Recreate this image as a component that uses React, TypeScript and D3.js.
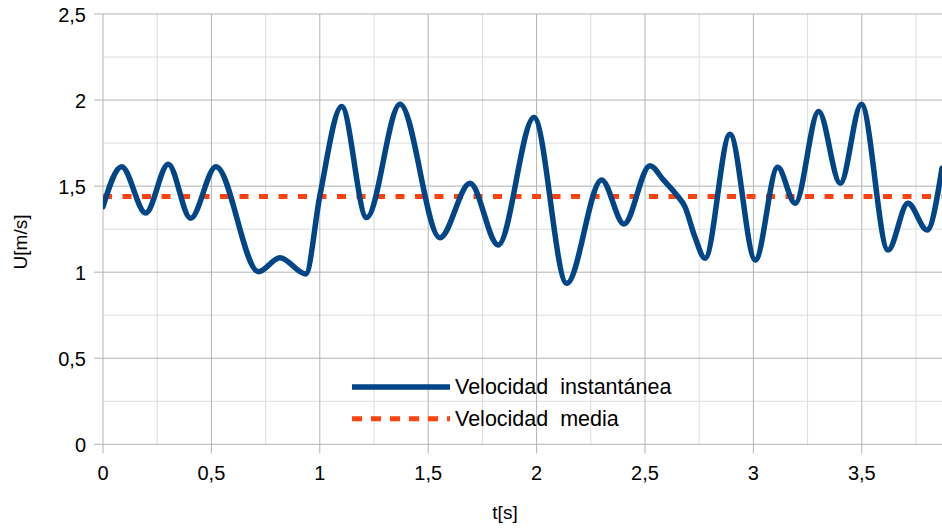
import React from "react";
import * as d3 from "d3";

// Data
const timeS: number[] = [
  0, 0.086, 0.197, 0.301, 0.404, 0.521, 0.717, 0.816, 0.935, 1.001,
  1.101, 1.216, 1.37, 1.554, 1.693, 1.823, 1.988, 2.139, 2.3, 2.403,
  2.523, 2.585, 2.646, 2.684, 2.73, 2.777, 2.892, 3.009, 3.112, 3.193, 3.301,
  3.401, 3.498, 3.621, 3.713, 3.801, 3.87,
];
const velocity: number[] = [
  1.381, 1.613, 1.344, 1.627, 1.313, 1.613, 1.003, 1.084, 0.99, 1.449,
  1.962, 1.317, 1.976, 1.2, 1.516, 1.158, 1.898, 0.935, 1.536, 1.28,
  1.619, 1.536, 1.449, 1.381, 1.206, 1.081, 1.801, 1.071, 1.609, 1.4, 1.933,
  1.516, 1.976, 1.129, 1.4, 1.245, 1.604,
];
const meanVelocity = 1.44;
const xTicks: number[] = [0, 0.5, 1, 1.5, 2, 2.5, 3, 3.5];
const yTicks: number[] = [0, 0.5, 1, 1.5, 2, 2.5];
const xMinorTicks: number[] = [0.25, 0.75, 1.25, 1.75, 2.25, 2.75, 3.25, 3.75];
const yMinorTicks: number[] = [0.25, 0.75, 1.25, 1.75, 2.25];
const seriesNames: string[] = ["Velocidad  instantánea", "Velocidad  media"];
const xTitle = "t[s]";
const yTitle = "U[m/s]";

const W = 942;
const H = 531;
const left = 103;
const right = 942;
const top = 14;
const bottom = 444.3;

const BLUE = "#004586";
const ORANGE = "#ff420e";
const FONT = "'Liberation Sans', Arial, sans-serif";

const fmt = (v: number) => String(v).replace(".", ",");

export default function App() {
  const x = d3.scaleLinear().domain([0, 3.87]).range([left, right]);
  const y = d3.scaleLinear().domain([0, 2.5]).range([bottom, top]);

  const pts: [number, number][] = timeS.map((t, i) => [t, velocity[i]]);
  const line = d3
    .line<[number, number]>()
    .x((d) => x(d[0]))
    .y((d) => y(d[1]))
    .curve(d3.curveMonotoneX);

  const meanLine = d3
    .line<number>()
    .x((t) => x(t))
    .y(() => y(meanVelocity));

  return (
    <svg
      width={W}
      height={H}
      style={{ position: "fixed", left: 0, top: 0, background: "#fff" }}
      fontFamily={FONT}
    >
      <defs>
        <clipPath id="plotClip">
          <rect x={left} y={top - 5} width={right - left} height={bottom - top + 10} />
        </clipPath>
      </defs>
      {/* minor grid */}
      {xMinorTicks.map((t) => (
        <line key={"xm" + t} x1={x(t)} x2={x(t)} y1={top} y2={bottom} stroke="#dddddd" strokeWidth={1} />
      ))}
      {yMinorTicks.map((v) => (
        <line key={"ym" + v} x1={left} x2={right} y1={y(v)} y2={y(v)} stroke="#dddddd" strokeWidth={1} />
      ))}
      {/* major grid */}
      {xTicks.map((t) => (
        <line key={"xg" + t} x1={x(t)} x2={x(t)} y1={top} y2={bottom + 9} stroke="#b3b3b3" strokeWidth={1} />
      ))}
      {yTicks.map((v) => (
        <line key={"yg" + v} x1={left - 9} x2={right} y1={y(v)} y2={y(v)} stroke="#b3b3b3" strokeWidth={1} />
      ))}
      {/* tick labels */}
      {yTicks.map((v) => (
        <text key={"yl" + v} x={86} y={y(v) + 7.5} textAnchor="end" fontSize={20} fill="#000">
          {fmt(v)}
        </text>
      ))}
      {xTicks.map((t) => (
        <text key={"xl" + t} x={x(t)} y={479.5} textAnchor="middle" fontSize={20} fill="#000">
          {fmt(t)}
        </text>
      ))}
      {/* axis titles */}
      <text x={505} y={519} textAnchor="middle" fontSize={19} fill="#000">
        {xTitle}
      </text>
      <text
        transform={`translate(27,242) rotate(-90)`}
        textAnchor="middle"
        fontSize={19}
        fill="#000"
      >
        {yTitle}
      </text>
      {/* series */}
      <g clipPath="url(#plotClip)">
        <path
          d={meanLine([0, 3.87]) || ""}
          fill="none"
          stroke={ORANGE}
          strokeWidth={5}
          strokeDasharray="9,10.5"
        />
        <path
          d={line(pts) || ""}
          fill="none"
          stroke={BLUE}
          strokeWidth={5.5}
          strokeLinejoin="round"
          strokeLinecap="round"
        />
      </g>
      {/* legend */}
      <g>
        <line x1={352} x2={450} y1={387} y2={387} stroke={BLUE} strokeWidth={5.5} />
        <text x={455} y={394} fontSize={21.5} fill="#000" style={{ whiteSpace: "pre" }}>
          {seriesNames[0]}
        </text>
        <line x1={352} x2={450} y1={418.7} y2={418.7} stroke={ORANGE} strokeWidth={5} strokeDasharray="10,9" />
        <text x={455} y={425.7} fontSize={21.5} fill="#000" style={{ whiteSpace: "pre" }}>
          {seriesNames[1]}
        </text>
      </g>
    </svg>
  );
}
